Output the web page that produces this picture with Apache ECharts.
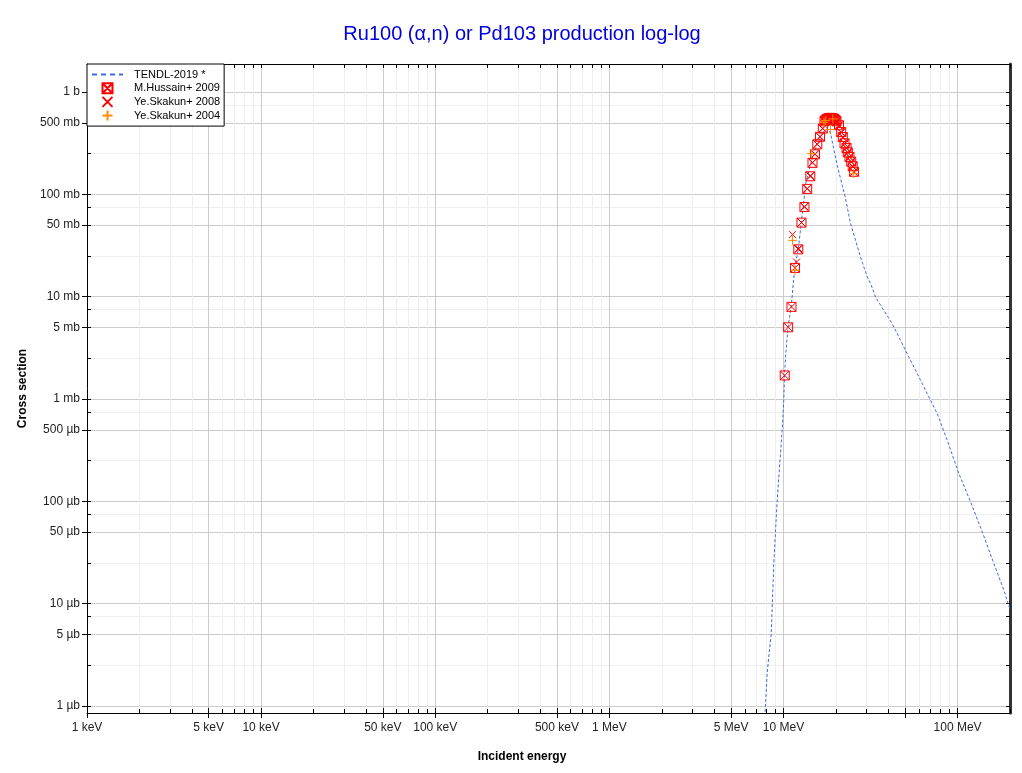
<!DOCTYPE html>
<html>
<head>
<meta charset="utf-8">
<script src="https://cdn.jsdelivr.net/npm/echarts@6/dist/echarts.min.js"></script>
<style>html,body{margin:0;padding:0;background:#fff}#c{width:1022px;height:773px}</style>
</head>
<body>
<div id="c"></div>
<script>
// ---------------- data (energy in MeV, cross section in mb) ----------------
const chartTitle = 'Ru100 (α,n) or Pd103 production log-log';
const xAxisTitle = 'Incident energy';
const yAxisTitle = 'Cross section';

const xLabelValues = [0.001, 0.005, 0.01, 0.05, 0.1, 0.5, 1, 5, 10, 100];
const xTickLabels = ['1 keV', '5 keV', '10 keV', '50 keV', '100 keV', '500 keV', '1 MeV', '5 MeV', '10 MeV', '100 MeV'];
const yLabelValues = [0.001, 0.005, 0.01, 0.05, 0.1, 0.5, 1, 5, 10, 50, 100, 500, 1000];
const yTickLabels = ['1 µb', '5 µb', '10 µb', '50 µb', '100 µb', '500 µb', '1 mb', '5 mb', '10 mb', '50 mb', '100 mb', '500 mb', '1 b'];
const xRange = [0.001, 200];
const yRange = [0.000855, 1877];

const seriesNames = ['TENDL-2019 *', 'M.Hussain+ 2009', 'Ye.Skakun+ 2008', 'Ye.Skakun+ 2004'];

const tendlE = [7.78, 7.91, 8.06, 8.23, 8.51, 8.80, 9.20, 9.83, 10.05, 10.15, 10.27, 10.61, 11.07, 11.61, 12.15, 12.64, 12.98, 13.38, 13.55, 14.8, 16.32, 17.7, 18.63, 20.35, 21.75, 22.71, 24.27, 27.70, 30.27, 31.62, 33.80, 37.71, 42.14, 47.03, 52.50, 58.67, 66.96, 76.41, 87.27, 101.7, 118.8, 138.7, 161.7, 184.5, 200];
const tendlXS = [0.0007, 0.00114, 0.00208, 0.003, 0.00513, 0.0248, 0.102, 0.494, 1.0, 1.75, 2.55, 5.01, 7.87, 19.4, 28.4, 52.1, 74.7, 122.5, 137, 245, 363, 450, 395, 192, 122.5, 91.4, 52.1, 24.4, 15.6, 13.5, 9.91, 7.35, 5.44, 3.74, 2.57, 1.77, 1.128, 0.719, 0.3945, 0.1866, 0.0985, 0.0501, 0.0246, 0.0135, 0.0088];

const hussainE = [10.17, 10.64, 11.12, 11.65, 12.17, 12.69, 13.20, 13.69, 14.26, 14.68, 15.17, 15.64, 16.21, 16.82, 17.20, 17.45, 17.67, 17.90, 18.14, 18.40, 18.63, 18.90, 19.12, 19.40, 19.64, 19.90, 20.16, 20.84, 21.46, 21.92, 22.42, 23.02, 23.42, 23.95, 24.50, 24.99, 25.42];
const hussainXS = [1.70, 5.02, 7.95, 19.1, 29.0, 52.9, 75.1, 113, 150, 203, 246, 308, 365, 439, 517, 530, 541, 548, 553, 556, 559, 557, 553, 548, 541, 530, 517, 473, 406, 363, 315, 284, 257, 232, 209, 188, 166];

const skakun08E = [11.27, 11.88, 12.2, 12.7, 13.2, 13.7, 14.3, 14.7, 15.2, 15.6, 16.2, 16.8, 17.3, 17.8, 18.3, 18.8, 19.3, 19.8, 20.3, 20.9, 21.5, 22.0, 22.5, 23.0, 23.5, 24.0, 24.5, 25.0, 25.4];
const skakun08XS = [40.4, 21.8, 29.5, 53, 76, 114, 152, 205, 248, 310, 366, 440, 520, 545, 555, 560, 552, 540, 512, 465, 400, 358, 312, 282, 255, 230, 207, 186, 164];

const skakun04E = [11.27, 11.65, 14.43, 17.1, 17.5, 18.6, 19.2, 25.3];
const skakun04XS = [35.5, 18.1, 250, 505, 525, 430, 545, 160];

// ---------------- helpers ----------------
const L = Math.log10;
const pairs = (xs, ys) => xs.map((x, i) => [L(x), L(ys[i])]);

function decadeMultiples(lo, hi, mults) {
  const out = [];
  for (let d = Math.floor(L(lo)) - 1; d <= Math.ceil(L(hi)) + 1; d++) {
    mults.forEach(m => {
      const v = m * Math.pow(10, d);
      if (v >= lo * 0.9999 && v <= hi * 1.0001) out.push(L(v));
    });
  }
  return out;
}
const xMajor = decadeMultiples(xRange[0], xRange[1], [1, 5]);
const xMinor = decadeMultiples(xRange[0], xRange[1], [2, 3, 4, 6, 7, 8, 9]);
const xAll = decadeMultiples(xRange[0], xRange[1], [1, 2, 3, 4, 5, 6, 7, 8, 9]);
const yMajor = decadeMultiples(yRange[0], yRange[1], [1, 5]);
const yMinor = decadeMultiples(yRange[0], yRange[1], [2.5, 7.5]);
const yAll = decadeMultiples(yRange[0], yRange[1], [1, 2.5, 5, 7.5]);

function nearestLabel(v, vals, labels) {
  let best = 0, bd = Infinity;
  vals.forEach((t, i) => { const d = Math.abs(L(t) - v); if (d < bd) { bd = d; best = i; } });
  return labels[best];
}

const FONT = '"Liberation Sans", Arial, Helvetica, sans-serif';
const xMin = L(xRange[0]), xMax = L(xRange[1]);
const yMin = L(yRange[0]), yMax = L(yRange[1]);

const xBase = {
  type: 'value', min: xMin, max: xMax, position: 'bottom', gridIndex: 0,
  axisLine: { show: false, onZero: false }, axisLabel: { show: false },
  axisTick: { show: false }, splitLine: { show: false }
};
const yBase = {
  type: 'value', min: yMin, max: yMax, position: 'left', gridIndex: 0,
  axisLine: { show: false, onZero: false }, axisLabel: { show: false },
  axisTick: { show: false }, splitLine: { show: false }
};

const squareX = 'path://M0,0L10,0L10,10L0,10Z M0,0L10,10 M10,0L0,10';
const crossX = 'path://M0,0L10,10 M10,0L0,10';
const plus = 'path://M5,0L5,10 M0,5L10,5';

const chart = echarts.init(document.getElementById('c'), null, { renderer: 'canvas' });
chart.setOption({
  animation: false,
  backgroundColor: '#ffffff',
  title: [
    { text: chartTitle, left: 522, top: 24, textAlign: 'center', padding: 0,
      textStyle: { color: '#0000dd', fontSize: 20, fontWeight: 'normal', fontFamily: FONT } },
    { text: xAxisTitle, left: 522, top: 751, textAlign: 'center', padding: 0,
      textStyle: { color: '#000', fontSize: 12, fontWeight: 'bold', fontFamily: FONT } }
  ],
  grid: { left: 87, right: 12, top: 64, bottom: 60, containLabel: false, outerBoundsMode: 'none' },
  legend: {
    orient: 'vertical', left: 87, top: 64, padding: [4, 4, 4, 4],
    itemGap: 0.7, itemWidth: 31, itemHeight: 10,
    backgroundColor: '#fff', borderColor: '#000', borderWidth: 1, borderRadius: 0,
    selectedMode: false,
    textStyle: { fontSize: 11, lineHeight: 13, color: '#000', fontFamily: FONT, padding: [0, 0, 0, 6] },
    data: [
      { name: seriesNames[0], lineStyle: { width: 2, type: [5, 4] },
        itemStyle: { opacity: 0, color: 'rgba(0,0,0,0)', borderColor: 'rgba(0,0,0,0)', borderWidth: 0 } },
      { name: seriesNames[1] },
      { name: seriesNames[2] },
      { name: seriesNames[3] }
    ]
  },
  xAxis: [
    Object.assign({}, xBase, {
      axisLine: { show: true, onZero: false, lineStyle: { color: '#000', width: 1 } },
      axisTick: { show: true, inside: false, length: 5, customValues: xMajor, lineStyle: { color: '#000' } },
      axisLabel: { show: true, customValues: xLabelValues.map(L), margin: 9, color: '#222', fontSize: 12, fontFamily: FONT,
        formatter: v => nearestLabel(v, xLabelValues, xTickLabels) },
      splitLine: { show: true, lineStyle: { color: '#cbcbcb', width: 1 } }
    }),
    Object.assign({}, xBase, {
      axisTick: { show: true, inside: true, length: 4, customValues: xMinor, lineStyle: { color: '#000' } },
      splitLine: { show: true, lineStyle: { color: '#eeeeee', width: 1 } }
    }),
    Object.assign({}, xBase, {
      axisTick: { show: true, inside: true, length: 5, customValues: xMajor, lineStyle: { color: '#000' } }
    }),
    Object.assign({}, xBase, {
      position: 'top',
      axisLine: { show: true, onZero: false, lineStyle: { color: '#000', width: 1 } },
      axisTick: { show: true, inside: true, length: 4, customValues: xAll, lineStyle: { color: '#000' } }
    })
  ],
  yAxis: [
    Object.assign({}, yBase, {
      axisLine: { show: true, onZero: false, lineStyle: { color: '#000', width: 1 } },
      axisTick: { show: true, inside: false, length: 5, customValues: yMajor, lineStyle: { color: '#000' } },
      axisLabel: { show: true, customValues: yLabelValues.map(L), margin: 7, color: '#222', fontSize: 12, fontFamily: FONT,
        formatter: v => nearestLabel(v, yLabelValues, yTickLabels) },
      splitLine: { show: true, lineStyle: { color: '#cbcbcb', width: 1 } },
      name: yAxisTitle, nameLocation: 'middle', nameGap: 53, nameRotate: 90,
      nameTextStyle: { color: '#000', fontSize: 12, fontWeight: 'bold', fontFamily: FONT }
    }),
    Object.assign({}, yBase, {
      axisTick: { show: true, inside: true, length: 4, customValues: yMinor, lineStyle: { color: '#000' } },
      splitLine: { show: true, lineStyle: { color: '#eeeeee', width: 1 } }
    }),
    Object.assign({}, yBase, {
      axisTick: { show: true, inside: true, length: 4, customValues: yMajor, lineStyle: { color: '#000' } }
    }),
    Object.assign({}, yBase, {
      position: 'right',
      axisLine: { show: true, onZero: false, lineStyle: { color: '#333', width: 3 } },
      axisTick: { show: true, inside: true, length: 4, customValues: yAll, lineStyle: { color: '#000' } }
    })
  ],
  series: [
    {
      name: seriesNames[0], type: 'line', xAxisIndex: 0, yAxisIndex: 0,
      data: pairs(tendlE, tendlXS), symbol: 'circle', showSymbol: false, clip: true, z: 3,
      lineStyle: { color: '#3f6be0', width: 1, type: [3, 2] },
      itemStyle: { color: '#3f6be0' }
    },
    {
      name: seriesNames[1], type: 'scatter', xAxisIndex: 0, yAxisIndex: 0,
      data: pairs(hussainE, hussainXS), symbol: squareX, symbolSize: 9, symbolKeepAspect: true, z: 4,
      itemStyle: { color: 'rgba(255,0,0,0)', borderColor: '#ff0000', borderWidth: 1, opacity: 1 }
    },
    {
      name: seriesNames[2], type: 'scatter', xAxisIndex: 0, yAxisIndex: 0,
      data: pairs(skakun08E, skakun08XS), symbol: crossX, symbolSize: 7, symbolKeepAspect: true, z: 5,
      itemStyle: { color: 'rgba(255,0,0,0)', borderColor: '#ff0000', borderWidth: 1, opacity: 1 }
    },
    {
      name: seriesNames[3], type: 'scatter', xAxisIndex: 0, yAxisIndex: 0,
      data: pairs(skakun04E, skakun04XS), symbol: plus, symbolSize: 9, symbolKeepAspect: true, z: 6,
      itemStyle: { color: 'rgba(255,140,0,0)', borderColor: '#ff8c00', borderWidth: 1, opacity: 1 }
    }
  ]
});
</script>
</body>
</html>
